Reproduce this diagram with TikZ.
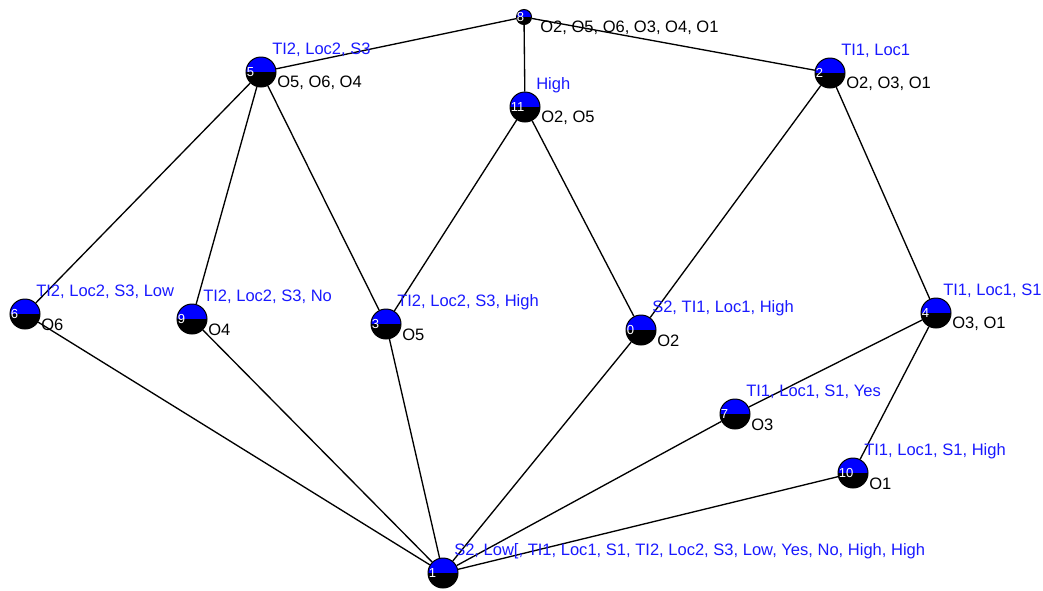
\documentclass[tikz,border=0pt]{standalone}
\usepackage{fontspec}
\setmainfont{Liberation Sans}
\usepackage{tikz}
\usetikzlibrary{positioning,calc}
\definecolor{splitBlue}{RGB}{0,0,255}
\definecolor{labelBlue}{RGB}{25,25,255}

\begin{document}
\begin{tikzpicture}[
            x=0.75pt, y=-0.75pt,
            vtx/.style={circle, draw, line width=0.75pt, minimum size=22.5pt, inner sep=0pt,
                path picture={
                    \fill[black] (path picture bounding box.west) rectangle (path picture bounding box.south east);
                    \fill[splitBlue] (path picture bounding box.north west) rectangle (path picture bounding box.east);}},
            smallvtx/.style={vtx, minimum size=11.25pt},
            num/.style={anchor=west, inner sep=0pt, text=white, font=\fontsize{9.8}{10}\selectfont},
            blab/.style={anchor=west, inner sep=0pt, text=labelBlue, font=\fontsize{12.4}{14}\selectfont},
            klab/.style={anchor=west, inner sep=0pt, text=black, font=\fontsize{12.4}{14}\selectfont},
            edge/.style={line width=1pt}
        ]
            \useasboundingbox (0,0) rectangle (1043,590);

            % vertices
            \node[smallvtx] (n8) at (524,17) {};
            \node[vtx] (n5) at (261,72) {};
            \node[vtx] (n11) at (525,107) {};
            \node[vtx] (n2) at (830,73) {};
            \node[vtx] (n6) at (25,314) {};
            \node[vtx] (n9) at (192,319) {};
            \node[vtx] (n3) at (386,324) {};
            \node[vtx] (n0) at (641,330) {};
            \node[vtx] (n4) at (936,313) {};
            \node[vtx] (n7) at (735,414) {};
            \node[vtx] (n10) at (853,473) {};
            \node[vtx] (n1) at (443,573) {};

            % numbers
            \node[num] at ($(n8.west)+(0.5,0)$) {8};
            \node[num] at ($(n5.west)+(1,0)$) {5};
            \node[num] at ($(n11.west)+(1,0)$) {11};
            \node[num] at ($(n2.west)+(1,0)$) {2};
            \node[num] at ($(n6.west)+(1,0)$) {6};
            \node[num] at ($(n9.west)+(1,0)$) {9};
            \node[num] at ($(n3.west)+(1,0)$) {3};
            \node[num] at ($(n0.west)+(1,0)$) {0};
            \node[num] at ($(n4.west)+(1,0)$) {4};
            \node[num] at ($(n7.west)+(1,0)$) {7};
            \node[num] at ($(n10.west)+(1,0)$) {10};
            \node[num] at ($(n1.west)+(1,0)$) {1};

            % edges
            \draw[edge] (n8) -- (n5);
            \draw[edge] (n8) -- (n11);
            \draw[edge] (n8) -- (n2);
            \draw[edge] (n5) -- (n6);
            \draw[edge] (n5) -- (n9);
            \draw[edge] (n5) -- (n3);
            \draw[edge] (n11) -- (n3);
            \draw[edge] (n11) -- (n0);
            \draw[edge] (n2) -- (n0);
            \draw[edge] (n2) -- (n4);
            \draw[edge] (n4) -- (n7);
            \draw[edge] (n4) -- (n10);
            \draw[edge] (n1) -- (n6);
            \draw[edge] (n1) -- (n9);
            \draw[edge] (n1) -- (n3);
            \draw[edge] (n1) -- (n0);
            \draw[edge] (n1) -- (n7);
            \draw[edge] (n1) -- (n10);

            % labels
            \node[klab] (o8) at ($(n8)+(16,11)$) {O2, O5, O6, O3, O4, O1};
            \node[blab] (t5) at ($(n5)+(11,-22)$) {TI2, Loc2, S3};
            \node[klab] (o5) at ($(n5)+(16,11)$) {O5, O6, O4};
            \node[blab] (t11) at ($(n11)+(11,-22)$) {High};
            \node[klab] (o11) at ($(n11)+(16,11)$) {O2, O5};
            \node[blab] (t2) at ($(n2)+(11,-22)$) {TI1, Loc1};
            \node[klab] (o2) at ($(n2)+(16,11)$) {O2, O3, O1};
            \node[blab] (t6) at ($(n6)+(11,-22)$) {TI2, Loc2, S3, Low};
            \node[klab] (o6) at ($(n6)+(16,11)$) {O6};
            \node[blab] (t9) at ($(n9)+(11,-22)$) {TI2, Loc2, S3, No};
            \node[klab] (o9) at ($(n9)+(16,11)$) {O4};
            \node[blab] (t3) at ($(n3)+(11,-22)$) {TI2, Loc2, S3, High};
            \node[klab] (o3) at ($(n3)+(16,11)$) {O5};
            \node[blab] (t0) at ($(n0)+(11,-22)$) {S2, TI1, Loc1, High};
            \node[klab] (o0) at ($(n0)+(16,11)$) {O2};
            \node[blab] (t4) at ($(n4)+(7,-22)$) {TI1, Loc1, S1};
            \node[klab] (o4) at ($(n4)+(16,11)$) {O3, O1};
            \node[blab] (t7) at ($(n7)+(11,-22)$) {TI1, Loc1, S1, Yes};
            \node[klab] (o7) at ($(n7)+(16,11)$) {O3};
            \node[blab] (t10) at ($(n10)+(11,-22)$) {TI1, Loc1, S1, High};
            \node[klab] (o10) at ($(n10)+(16,11)$) {O1};
            \node[blab] (t1) at ($(n1)+(11,-22)$) {S2, Low[, TI1, Loc1, S1, TI2, Loc2, S3, Low, Yes, No, High, High};
\end{tikzpicture}
\end{document}
